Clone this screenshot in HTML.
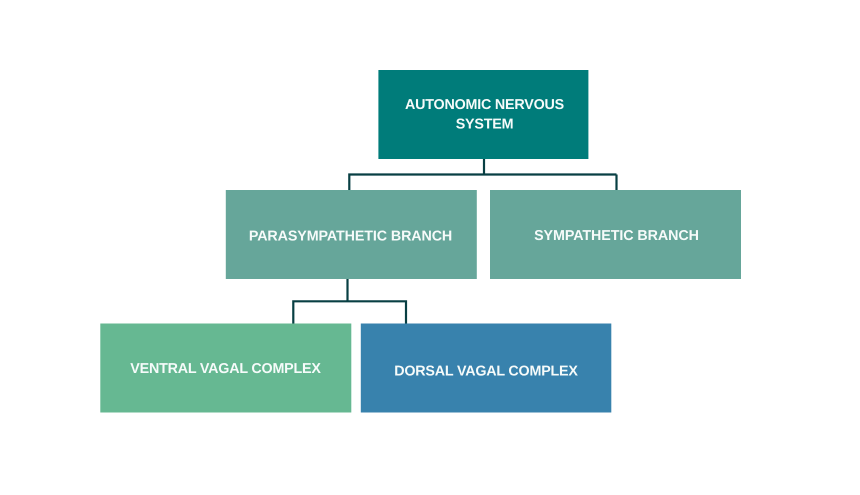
<!DOCTYPE html>
<html>
<head>
<meta charset="utf-8">
<style>
html,body{margin:0;padding:0;background:#fff;width:860px;height:495px;overflow:hidden}
svg{display:block}
text{font-family:"Liberation Sans",Arial,sans-serif;font-weight:700;font-size:14.3px;letter-spacing:-.2px;fill:#f6fbfa;text-anchor:middle;text-rendering:geometricPrecision}
</style>
</head>
<body>
<svg width="860" height="495" viewBox="0 0 860 495" xmlns="http://www.w3.org/2000/svg">
<rect width="860" height="495" fill="#fff"/>
<g fill="none" stroke="#083f43" stroke-width="2.200">
<path d="M484 159V174.500H349.300V190M616.500 174.500V190M484 174.500H616.500"/>
<path d="M347.500 279V301.300H293.300V323.500M406 323.500V301.300H347.500"/>
</g>
<rect x="378.400" y="70" width="210" height="89" fill="#007c7a"/>
<rect x="225.800" y="190" width="251" height="89" fill="#66a69a"/>
<rect x="490" y="190" width="251" height="89" fill="#66a69a"/>
<rect x="100.300" y="323.500" width="251" height="89" fill="#66b892"/>
<rect x="360.800" y="323.500" width="250.500" height="89" fill="#3882ad"/>
<text x="484.500" y="109">AUTONOMIC NERVOUS</text>
<text x="484.500" y="128.500">SYSTEM</text>
<text x="350.500" y="240.500" style="letter-spacing:-.11px">PARASYMPATHETIC BRANCH</text>
<text x="616.500" y="240" style="letter-spacing:-.08px">SYMPATHETIC BRANCH</text>
<text x="225.500" y="373">VENTRAL VAGAL COMPLEX</text>
<text x="486" y="375.500">DORSAL VAGAL COMPLEX</text>
</svg>
</body>
</html>
